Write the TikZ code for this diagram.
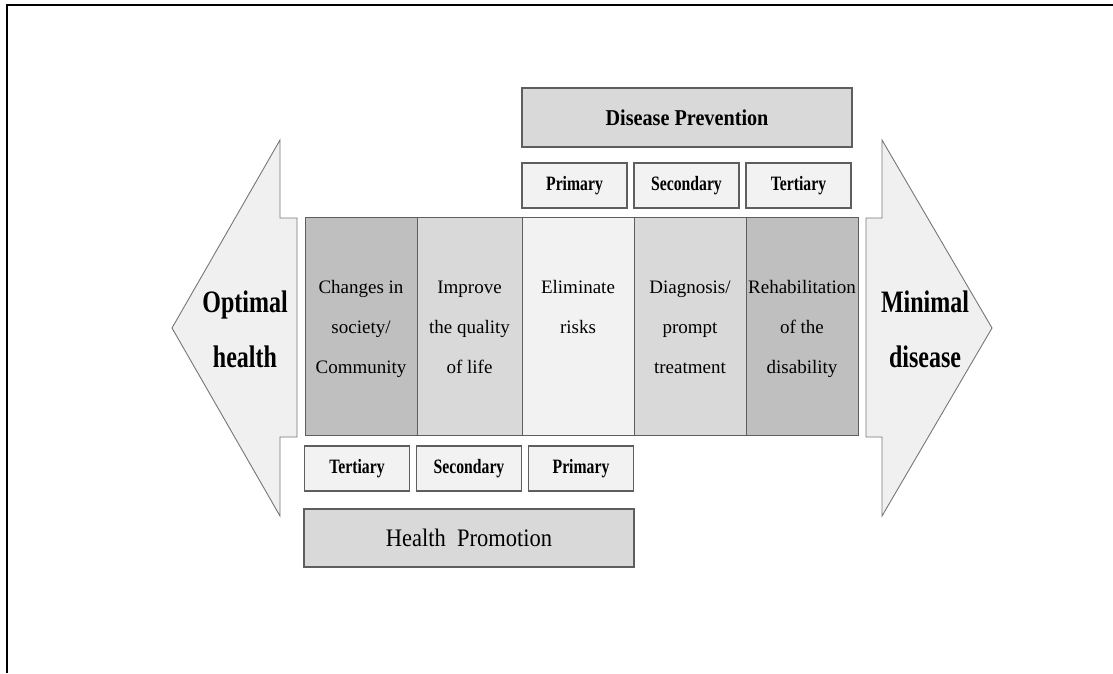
\documentclass[tikz,border=0pt]{standalone}
\usepackage{fontspec}
\setmainfont{Liberation Serif}
\usepackage{graphicx}
\definecolor{arrowfill}{HTML}{F0F0F0}
\definecolor{edgegray}{HTML}{5E5E5E}
\definecolor{arrowedge}{HTML}{777777}
\definecolor{darkfill}{HTML}{BFBFBF}
\definecolor{midfill}{HTML}{D9D9D9}
\definecolor{lightfill}{HTML}{F2F2F2}
\newcommand{\tallA}[1]{\scalebox{1}[1.3]{#1}}
\newcommand{\tallB}[1]{\scalebox{1}[1.12]{#1}}
\begin{document}
\begin{tikzpicture}[x=1pt,y=-1pt,
  column/.style={draw=edgegray, line width=1.1pt, inner sep=0pt, minimum height=218pt, anchor=north west},
  smallbox/.style={draw=edgegray, line width=1.1pt, fill=lightfill, inner sep=0pt, minimum width=105pt, minimum height=45pt,
    font=\fontsize{15.7}{18}\selectfont\bfseries},
  bigbox/.style={draw=edgegray, line width=1.1pt, fill=midfill, inner sep=0pt, minimum width=330pt, minimum height=58pt},
  coltext/.style={anchor=base, inner sep=0pt, font=\fontsize{19}{40}\selectfont},
  bigarrow/.style={draw=arrowedge, line width=0.9pt, fill=arrowfill, line join=miter},
  endtext/.style={inner sep=0pt, font=\fontsize{24}{42}\selectfont\bfseries}
]
\useasboundingbox (0,0) rectangle (1113,673);
\fill[white] (0,0) rectangle (1113,673);
% frame
\draw[line width=2.2pt] (7,673) -- (7,5) -- (1113,5);

% arrows
\draw[bigarrow] (280,140) -- (172,328) -- (280,516) -- (280,437) -- (297,437) -- (297,218) -- (280,218) -- cycle;
\draw[bigarrow] (882,140) -- (992,328) -- (882,516) -- (882,437) -- (866,437) -- (866,218) -- (882,218) -- cycle;
\node[endtext] (opt) at (245,329) {\tallA{\begin{tabular}{@{}c@{}}Optimal\\health\end{tabular}}};
\node[endtext] (mini) at (925,329) {\tallA{\begin{tabular}{@{}c@{}}Minimal\\disease\end{tabular}}};

% columns
\node[column, fill=darkfill, minimum width=112pt] (c1) at (305,216.5) {};
\node[column, fill=midfill, minimum width=105pt] (c2) at (417,216.5) {};
\node[column, fill=lightfill, minimum width=112pt] (c3) at (522,216.5) {};
\node[column, fill=midfill, minimum width=112pt] (c4) at (634,216.5) {};
\node[column, fill=darkfill, minimum width=112pt] (c5) at (746,216.5) {};

\node[coltext] (t1) at (361,293) {\begin{tabular}[t]{@{}c@{}}Changes in\\society/\\Community\end{tabular}};
\node[coltext] (t2) at (469.5,293) {\begin{tabular}[t]{@{}c@{}}Improve\\the quality\\of life\end{tabular}};
\node[coltext] (t3) at (578,293) {\begin{tabular}[t]{@{}c@{}}Eliminate\\risks\end{tabular}};
\node[coltext] (t4) at (690,293) {\begin{tabular}[t]{@{}c@{}}Diagnosis/\\prompt\\treatment\end{tabular}};
\node[coltext] (t5) at (802,293) {\begin{tabular}[t]{@{}c@{}}Rehabilitation\\of the\\disability\end{tabular}};

% disease prevention
\node[bigbox, minimum height=59pt, font=\fontsize{20.2}{24}\selectfont\bfseries] (dp) at (687,117.5) {\tallB{Disease Prevention}};
\node[smallbox] (dp1) at (574.5,185.5) {\tallA{Primary}};
\node[smallbox] (dp2) at (686.5,185.5) {\tallA{Secondary}};
\node[smallbox] (dp3) at (798.5,185.5) {\tallA{Tertiary}};

% health promotion
\node[smallbox] (hp1) at (357,468.5) {\tallA{Tertiary}};
\node[smallbox] (hp2) at (469,468.5) {\tallA{Secondary}};
\node[smallbox] (hp3) at (581,468.5) {\tallA{Primary}};
\node[bigbox, font=\fontsize{22.5}{26}\selectfont] (hp) at (469,538) {\tallB{Health~~Promotion}};
\end{tikzpicture}
\end{document}
